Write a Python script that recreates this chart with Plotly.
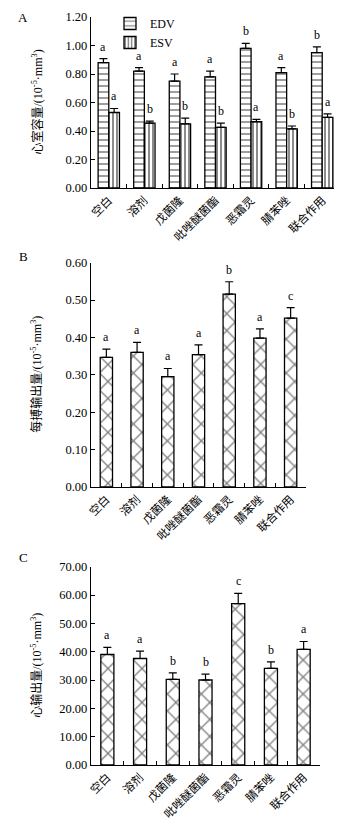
import plotly.graph_objects as go

categories = ["空白", "溶剂", "戊菌隆", "吡唑醚菌酯", "恶霜灵", "腈苯唑", "联合作用"]

edv = [0.88, 0.82, 0.75, 0.78, 0.98, 0.81, 0.95]
edv_err = [0.028, 0.025, 0.05, 0.04, 0.035, 0.035, 0.04]
edv_sig = ["a", "a", "a", "a", "b", "a", "b"]
esv = [0.53, 0.455, 0.45, 0.425, 0.465, 0.415, 0.495]
esv_err = [0.028, 0.015, 0.04, 0.03, 0.017, 0.02, 0.025]
esv_sig = ["a", "b", "b", "b", "a", "b", "a"]

sv = [0.347, 0.36, 0.295, 0.354, 0.516, 0.398, 0.452]
sv_err = [0.022, 0.027, 0.022, 0.026, 0.033, 0.025, 0.028]
sv_sig = ["a", "a", "a", "a", "b", "a", "c"]

co = [39.0, 37.6, 30.2, 30.0, 57.0, 34.1, 40.8]
co_err = [2.5, 2.6, 2.3, 2.1, 3.6, 2.3, 2.8]
co_sig = ["a", "a", "b", "b", "c", "b", "a"]

ticks_a = [0.0, 0.2, 0.4, 0.6, 0.8, 1.0, 1.2]
ticks_b = [0.0, 0.1, 0.2, 0.3, 0.4, 0.5, 0.6]
ticks_c = [0, 10, 20, 30, 40, 50, 60, 70]

FONT = "Liberation Serif, Noto Sans CJK SC"
OFF = 8  # default page body margin
W, H = 342 - OFF, 820 - OFF

def px(x):
    return (x - OFF) / W

def py(y):
    return 1 - (y - OFF) / H

def err(arr):
    return dict(type="data", symmetric=False, array=arr, arrayminus=[0] * len(arr),
                color="black", thickness=1.2, width=4)

def pattern(shape, size, sol):
    return dict(shape=shape, size=size, solidity=sol, fgcolor="black", bgcolor="white", fillmode="overlay")

fig = go.Figure()
fig.add_trace(go.Bar(x=categories, y=edv, name="EDV", xaxis="x", yaxis="y",
                     width=0.3, offset=-0.3, error_y=err(edv_err),
                     marker=dict(color="white", line=dict(color="black", width=1.3),
                                 pattern=pattern("-", 6, 0.25))))
fig.add_trace(go.Bar(x=categories, y=esv, name="ESV", xaxis="x", yaxis="y",
                     width=0.3, offset=0.0, error_y=err(esv_err),
                     marker=dict(color="white", line=dict(color="black", width=1.3),
                                 pattern=pattern("|", 4, 0.45))))
fig.add_trace(go.Bar(x=categories, y=sv, name="SV", xaxis="x2", yaxis="y2", showlegend=False,
                     width=0.4, error_y=err(sv_err),
                     marker=dict(color="white", line=dict(color="black", width=1.3),
                                 pattern=pattern("x", 12, 0.2))))
fig.add_trace(go.Bar(x=categories, y=co, name="CO", xaxis="x3", yaxis="y3", showlegend=False,
                     width=0.4, error_y=err(co_err),
                     marker=dict(color="white", line=dict(color="black", width=1.3),
                                 pattern=pattern("x", 12, 0.2))))

def xax(domain, anchor):
    return dict(domain=domain, anchor=anchor, type="category", range=[-0.5, 6.5],
                showline=True, linecolor="black", linewidth=1.3, ticks="inside", ticklen=4,
                tickson="boundaries", tickcolor="black", tickangle=-45, showgrid=False,
                automargin=False,
                tickfont=dict(family=FONT, size=11.5, color="black"))

def yax(domain, anchor, rng, tv, fmt):
    return dict(domain=domain, anchor=anchor, range=rng, tickvals=tv,
                ticktext=[format(v, fmt) for v in tv], automargin=False,
                showline=True, linecolor="black", linewidth=1.3, ticks="inside", ticklen=4,
                tickcolor="black", showgrid=False, zeroline=False,
                tickfont=dict(family=FONT, size=12.5, color="black"))

fig.update_layout(
    width=W, height=H, margin=dict(l=0, r=0, t=0, b=0, autoexpand=False),
    plot_bgcolor="white", paper_bgcolor="white", barmode="overlay",
    xaxis=xax([px(91), px(340)], "y"),
    yaxis=yax([py(188), py(17)], "x", [0, 1.2], ticks_a, ".2f"),
    xaxis2=xax([px(91), px(306)], "y2"),
    yaxis2=yax([py(487), py(262.7)], "x2", [0, 0.6], ticks_b, ".2f"),
    xaxis3=xax([px(91), px(320)], "y3"),
    yaxis3=yax([py(765), py(566.7)], "x3", [0, 70], ticks_c, ".2f"),
    showlegend=True,
    legend=dict(x=px(110), y=py(9), xanchor="left", yanchor="top",
                font=dict(family=FONT, size=12, color="black"), bgcolor="rgba(0,0,0,0)",
                itemwidth=30, tracegroupgap=0),
)

anns = []
def letters(vals, errs, sigs, xr, yr, dx):
    for i, (v, e, s) in enumerate(zip(vals, errs, sigs)):
        anns.append(dict(x=i + dx, y=v + e, xref=xr, yref=yr, text=s, showarrow=False,
                         yanchor="middle", yshift=12,
                         font=dict(family=FONT, size=12, color="#000000")))

letters(edv, edv_err, edv_sig, "x", "y", -0.15)
letters(esv, esv_err, esv_sig, "x", "y", 0.15)
letters(sv, sv_err, sv_sig, "x2", "y2", 0)
letters(co, co_err, co_sig, "x3", "y3", 0)

anns.append(dict(x=px(23), y=1, xref="paper", yref="paper", text="A",
                 showarrow=False, xanchor="center", yanchor="top",
                 font=dict(family=FONT, size=13, color="black")))
for lab, yy in [("B", 256), ("C", 557)]:
    anns.append(dict(x=px(23), y=py(yy), xref="paper", yref="paper", text=lab,
                     showarrow=False, xanchor="center", yanchor="middle",
                     font=dict(family=FONT, size=13, color="black")))

unit = "/(10<sup>-5</sup>·mm<sup>3</sup>)"
for t, yc in [("心室容量" + unit, (188 + 17) / 2), ("每搏输出量" + unit, (487 + 262.7) / 2),
              ("心输出量" + unit, (765 + 566.7) / 2)]:
    anns.append(dict(x=px(37), y=py(yc), xref="paper", yref="paper", text=t,
                     showarrow=False, textangle=-90, xanchor="center", yanchor="middle",
                     font=dict(family=FONT, size=12, color="black")))

fig.update_layout(annotations=anns)
fig.write_html("out.html")
